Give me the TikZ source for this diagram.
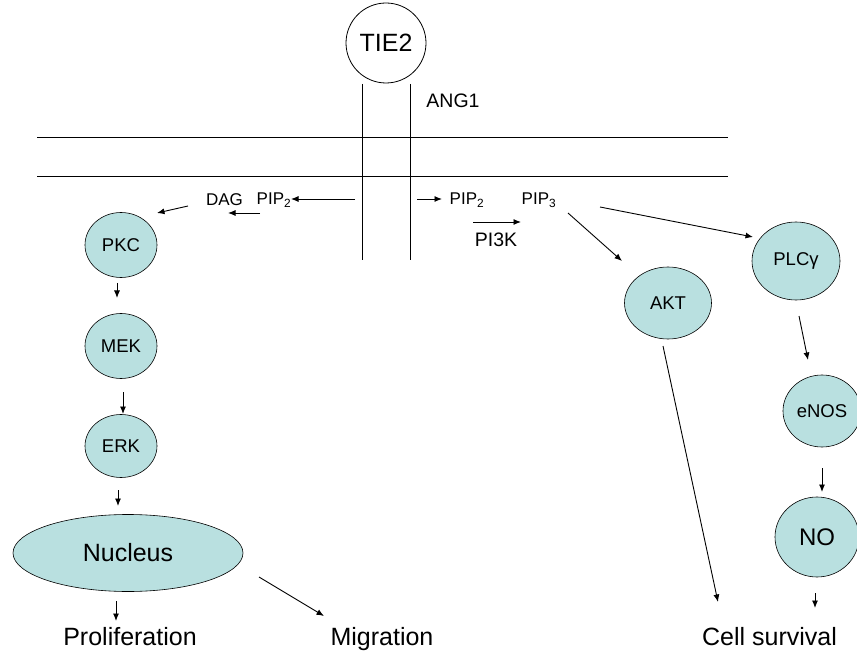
\documentclass[tikz,border=0pt]{standalone}
\usepackage{fontspec}
\setmainfont{Liberation Sans}
\usetikzlibrary{arrows.meta,shapes.geometric}
\definecolor{cellfill}{HTML}{B9E0E0}
\tikzset{
  mol/.style={ellipse,draw=black,fill=cellfill,line width=0.6pt,inner sep=0pt,font=\fontsize{18.5}{20}\selectfont},
  arr/.style={-{Latex[length=7.5pt,width=6pt]},line width=0.9pt},
  lbl/.style={inner sep=0pt,font=\fontsize{17}{19}\selectfont},
  lblb/.style={inner sep=0pt,font=\fontsize{19.5}{22}\selectfont},
  big/.style={inner sep=0pt,anchor=base,font=\fontsize{25}{28}\selectfont},
}
\begin{document}
\begin{tikzpicture}[x=1pt,y=-1pt]
\useasboundingbox (0,0) rectangle (857,652);
% receptor
\node[circle,draw,line width=0.8pt,minimum size=80pt,inner sep=0pt,font=\fontsize{25}{28}\selectfont] (tie2) at (386,43) {TIE2};
\coordinate (vl1) at (362,84); \coordinate (vl2) at (362,260);
\coordinate (vr1) at (410,84); \coordinate (vr2) at (410,260);
\draw[line width=0.8pt] (vl1) -- (vl2);
\draw[line width=0.8pt] (vr1) -- (vr2);
\node[lblb] (ang1) at (453,101) {ANG1};
% membrane
\coordinate (m1a) at (37,137); \coordinate (m1b) at (728,137);
\coordinate (m2a) at (37,176); \coordinate (m2b) at (728,176);
\draw[line width=0.7pt] (m1a) -- (m1b);
\draw[line width=0.7pt] (m2a) -- (m2b);
% left branch
\node[lbl] (pip2l) at (274,200) {PIP\textsubscript{2}};
\node[lbl] (dag) at (224.5,200) {DAG};
\coordinate (s1) at (355,199); \coordinate (s1e) at (291,199);
\draw[arr] (s1) -- (s1e);
\coordinate (a1s) at (260,213); \coordinate (a1e) at (228,213);
\draw[arr] (a1s) -- (a1e);
\node[mol,minimum width=72pt,minimum height=65pt] (pkc) at (121,245) {PKC};
\coordinate (a2s) at (188,206); \coordinate (a2e) at (157,213);
\draw[arr] (a2s) -- (a2e);
\node[mol,minimum width=72pt,minimum height=65pt] (mek) at (121,346) {MEK};
\node[mol,minimum width=72pt,minimum height=63pt] (erk) at (121,446) {ERK};
\node[ellipse,draw,fill=cellfill,line width=0.6pt,minimum width=230pt,minimum height=77pt,inner sep=0pt,font=\fontsize{25}{28}\selectfont] (nuc) at (128,553) {Nucleus};
\coordinate (p1) at (117,283); \coordinate (p2) at (117,298);
\draw[arr] (p1) -- (p2);
\coordinate (p3) at (123,392); \coordinate (p4) at (123,414);
\draw[arr] (p3) -- (p4);
\coordinate (p5) at (118,490); \coordinate (p6) at (118,506);
\draw[arr] (p5) -- (p6);
\coordinate (p7) at (116,601); \coordinate (p8) at (116,621);
\draw[arr] (p7) -- (p8);
\node[big] (prolif) at (130,645) {Proliferation};
\node[big] (migr) at (382,645) {Migration};
\coordinate (p9) at (259,577); \coordinate (p10) at (324,616);
\draw[arr] (p9) -- (p10);
% right branch
\node[lbl] (pip2r) at (467,200) {PIP\textsubscript{2}};
\node[lbl] (pip3) at (539,200) {PIP\textsubscript{3}};
\coordinate (r1) at (417,199); \coordinate (r1e) at (442,199);
\draw[arr] (r1) -- (r1e);
\coordinate (r2) at (473,222); \coordinate (r3) at (521,222);
\draw[arr] (r2) -- (r3);
\node[lblb] (pi3k) at (496,240) {PI3K};
\node[mol,minimum width=87pt,minimum height=72pt] (akt) at (668,303) {AKT};
\coordinate (r4) at (568,213); \coordinate (r4e) at (622,261);
\draw[arr] (r4) -- (r4e);
\node[mol,minimum width=88pt,minimum height=78pt] (plc) at (796,261) {PLCγ};
\coordinate (r5) at (600,207); \coordinate (r5e) at (753,237);
\draw[arr] (r5) -- (r5e);
\node[mol,minimum width=78pt,minimum height=72pt] (enos) at (822,411) {eNOS};
\node[mol,minimum width=84pt,minimum height=80pt,font=\fontsize{24}{27}\selectfont] (no) at (817,537) {NO};
\coordinate (r6) at (799,316); \coordinate (r7) at (808,360);
\draw[arr] (r6) -- (r7);
\coordinate (r8) at (822,468); \coordinate (r9) at (822,492);
\draw[arr] (r8) -- (r9);
\coordinate (r10) at (815,593); \coordinate (r11) at (815,608);
\draw[arr] (r10) -- (r11);
\node[big] (surv) at (769.5,645) {Cell survival};
\coordinate (r12) at (663,346); \coordinate (r13) at (718,602);
\draw[arr] (r12) -- (r13);
\end{tikzpicture}
\end{document}
